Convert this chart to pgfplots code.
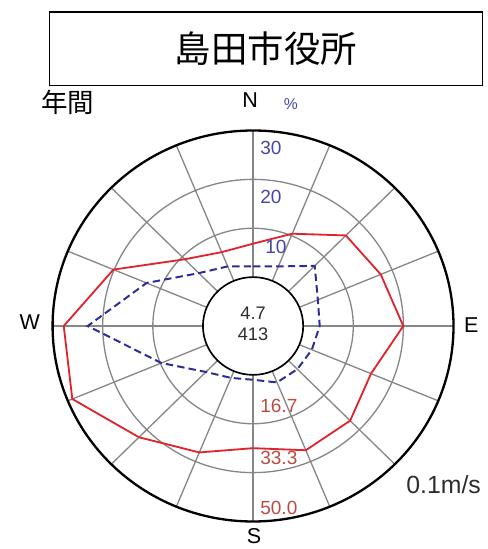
\documentclass[border=0pt]{standalone}
\usepackage{pgfplots}
\pgfplotsset{compat=1.18}
\usepackage{pgfplotstable}
\usepackage{fontspec}
\setmainfont{Liberation Sans}
\newfontfamily\jp{Noto Sans CJK JP}

\definecolor{roseRed}{RGB}{225,35,45}
\definecolor{roseBlue}{RGB}{45,45,150}
\definecolor{lblBlue}{RGB}{70,70,170}
\definecolor{lblRed}{RGB}{185,75,65}
\definecolor{gridGray}{RGB}{135,135,135}
\definecolor{txtGray}{RGB}{45,45,45}

% direction (deg from N, clockwise), mean speed v (0.1 m/s), frequency p (%)
\pgfplotstableread{
dir   v    p
0     11.4 2.2
22.5  17.4 3.2
45    27.0 7.4
67.5  29.3 4.0
90    33.3 3.3
112.5 25.8 2.7
135   29.0 2.5
157.5 29.2 2.5
180   25.0 1.0
202.5 30.0 1.5
225   37.0 3.3
247.5 48.4 9.8
270   46.3 23.0
292.5 33.6 13.0
315   15.5 5.3
337.5 10.6 3.2
360   11.4 2.2
}\rose

\begin{document}
\begin{tikzpicture}[x=0.6pt,y=0.6pt]
\path (0,0) rectangle (491,-549);

% title box
\draw[line width=0.8pt] (50,-12) rectangle (486,-86);
\node[font=\jp\fontsize{22}{22}\selectfont] at (268,-49) {島田市役所};
\node[font=\jp\fontsize{16}{16}\selectfont] at (68,-103) {年間};

% grid (rings and 16 spokes)
\def\cx{255}\def\cy{-328.5}
\foreach \k in {2,3} \draw[gridGray, line width=0.8pt] (\cx,\cy) ellipse [x radius=50.5*\k, y radius=49.25*\k];
\foreach \a in {0,22.5,...,337.5}
  \draw[gridGray, line width=0.8pt] ({\cx+50.5*sin(\a)},{\cy+49.25*cos(\a)}) -- ({\cx+202*sin(\a)},{\cy+197*cos(\a)});
\draw[black, line width=1pt] (\cx,\cy) ellipse [x radius=50.5, y radius=49.25];
\draw[black, line width=1.4pt] (\cx,\cy) ellipse [x radius=202, y radius=197];

\begin{axis}[
    at={(153pt,-197.1pt)}, anchor=center,
    width=242.4pt, height=236.4pt, scale only axis,
    hide axis, clip=false,
    xmin=-200, xmax=200, ymin=-200, ymax=200,
]
% mean wind speed: 0 at calm circle (r=50), 50.0 at outer circle (r=200)
\addplot[roseRed, line width=1.1pt, mark=none]
  table[x expr={(50+3*\thisrow{v})*sin(\thisrow{dir})},
        y expr={(50+3*\thisrow{v})*cos(\thisrow{dir})}] {\rose};
% frequency: 0 at calm circle, 30 % at outer circle
\addplot[roseBlue, line width=1.2pt, dash pattern=on 4.5pt off 2.5pt, mark=none]
  table[x expr={(50+5*\thisrow{p})*sin(\thisrow{dir})},
        y expr={(50+5*\thisrow{p})*cos(\thisrow{dir})}] {\rose};
\end{axis}

% direction labels
\node[font=\fontsize{13}{13}\selectfont] at (252,-101) {N};
\node[font=\fontsize{13}{13}\selectfont] at (475,-328) {E};
\node[font=\fontsize{13}{13}\selectfont] at (30,-325) {W};
\node[font=\fontsize{13}{13}\selectfont] at (256,-540) {S};
\node[font=\fontsize{9.5}{9.5}\selectfont, lblBlue] at (293,-105) {\%};
\node[font=\fontsize{15}{15}\selectfont, txtGray] at (447,-488) {0.1m/s};

% ring labels
\begin{scope}[every node/.style={anchor=west, inner sep=0pt, font=\fontsize{11.5}{11.5}\selectfont}]
\node[lblBlue] at (262,-149) {30};
\node[lblBlue] at (262,-198) {20};
\node[lblBlue] at (267,-249) {10};
\node[lblRed] at (262,-409) {16.7};
\node[lblRed] at (262,-461) {33.3};
\node[lblRed] at (262,-512) {50.0};
\end{scope}

% calm and sample count
\node[font=\fontsize{11}{11}\selectfont, txtGray] at (255,-316) {4.7};
\node[font=\fontsize{11}{11}\selectfont, txtGray] at (255,-337) {413};
\end{tikzpicture}
\end{document}
